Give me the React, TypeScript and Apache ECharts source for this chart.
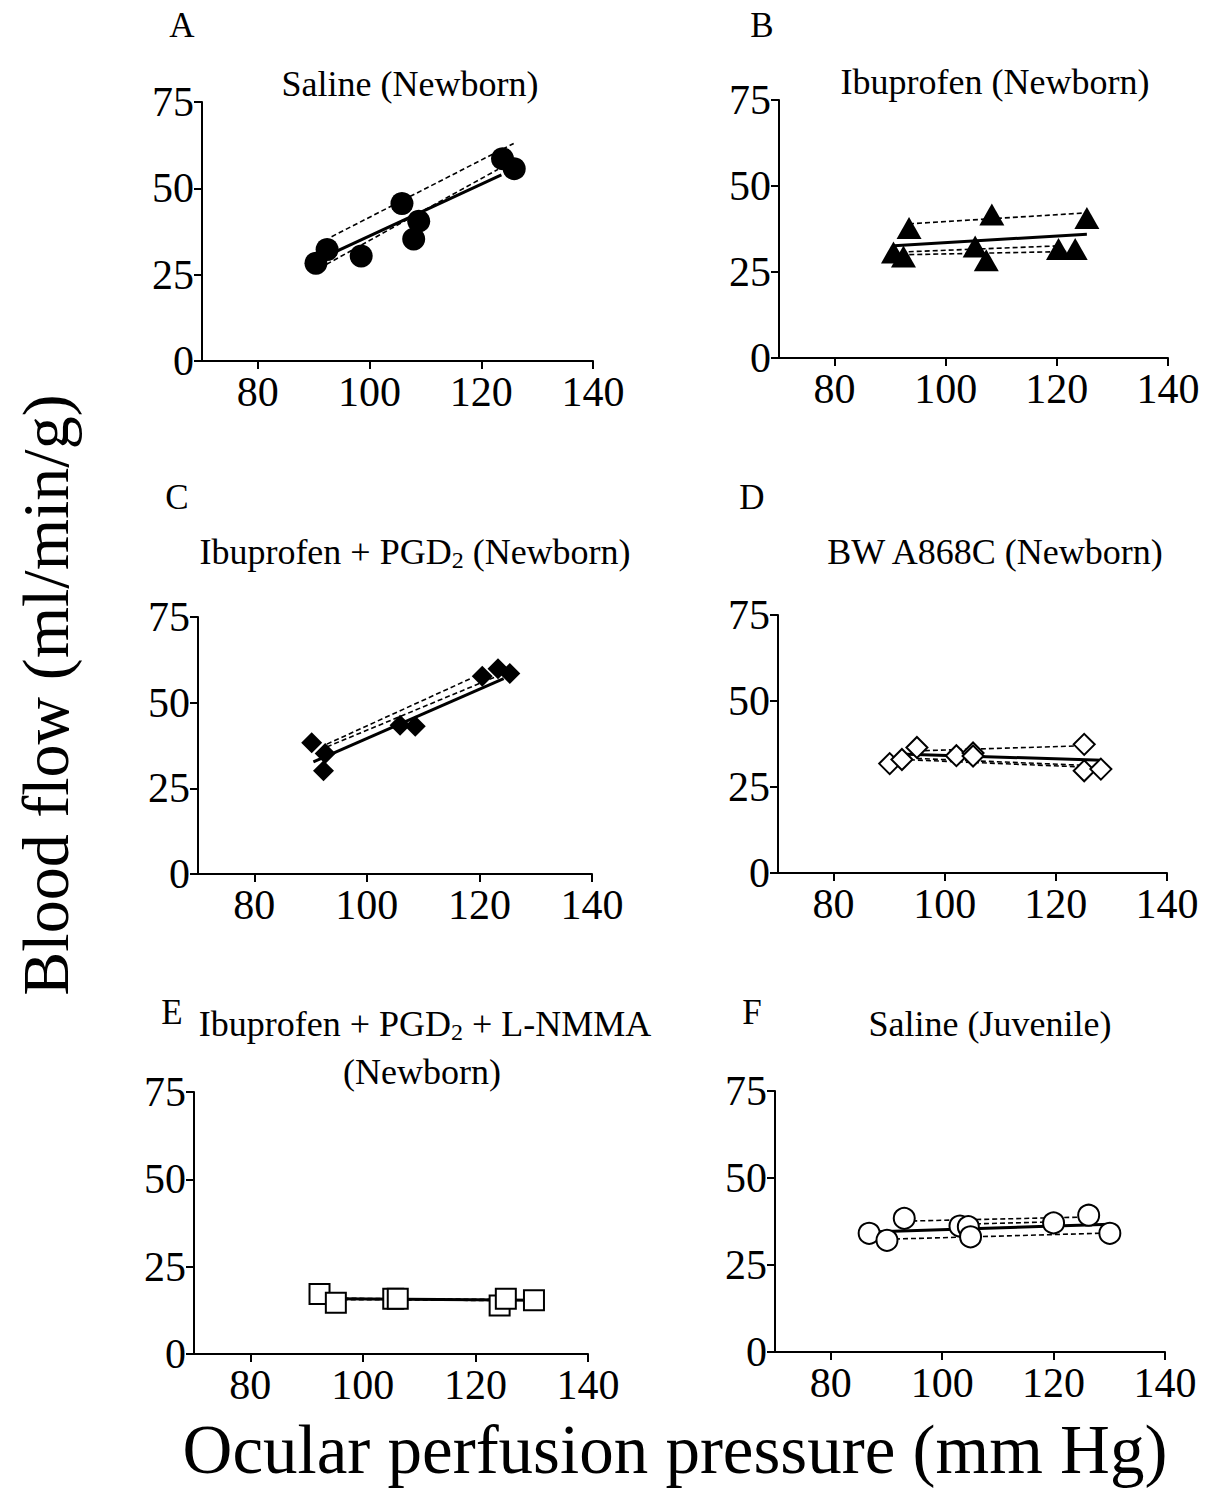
import React, { useEffect, useRef } from "react";
import * as echarts from "echarts";

const FONT = "'Liberation Serif', 'Times New Roman', serif";

// x tick labels and y tick labels
const xTicks = [80, 100, 120, 140];
const yTicks = [0, 25, 50, 75];

const panelLetters = ["A", "B", "C", "D", "E", "F"];

// Panel A: Saline (Newborn)
const pointsA = [[90.4, 28.3], [92.4, 32.3], [98.5, 30.4], [105.8, 45.6], [107.9, 35.3], [108.8, 40.5], [123.8, 58.6], [125.9, 55.7]];
const meanFitA = [[92.0, 30.2], [123.6, 53.9]];
const animalFitsA = [
  [[93.2, 36.0], [125.8, 63.0]],
  [[92.3, 28.0], [123.0, 55.5]],
];

// Panel B: Ibuprofen (Newborn)
const pointsB = [[93.4, 37.8], [108.3, 41.7], [125.4, 40.7], [90.6, 30.7], [92.4, 29.5], [105.3, 32.4], [107.3, 28.4], [120.3, 31.7], [123.3, 31.7]];
const meanFitB = [[90.7, 32.6], [125.4, 36.0]];
const animalFitsB = [
  [[93.4, 39.0], [125.4, 42.2]],
  [[91.9, 30.8], [120.3, 32.6]],
  [[92.0, 30.0], [123.3, 31.0]],
];

// Panel C: Ibuprofen + PGD2 (Newborn)
const pointsC = [[90.2, 38.3], [92.3, 30.1], [92.6, 35.2], [105.9, 43.4], [108.6, 43.1], [120.5, 57.7], [123.3, 59.9], [125.4, 58.5]];
const meanFitC = [[90.5, 32.7], [124.3, 57.0]];
const animalFitsC = [
  [[92.9, 37.9], [118.4, 57.0]],
  [[92.9, 37.1], [123.1, 57.7]],
];

// Panel D: BW A868C (Newborn)
const pointsD = [[90.1, 31.8], [92.3, 33.0], [95.0, 36.5], [102.1, 34.1], [105.1, 34.9], [105.1, 34.0], [125.1, 37.4], [125.1, 29.7], [128.1, 30.2]];
const meanFitD = [[93.2, 34.5], [128.3, 32.8]];
const animalFitsD = [
  [[95.0, 35.5], [125.1, 37.0]],
  [[95.0, 33.3], [125.1, 31.3]],
  [[92.3, 33.0], [128.1, 30.6]],
];

// Panel E: Ibuprofen + PGD2 + L-NMMA (Newborn)
const pointsE = [[92.3, 17.2], [95.2, 14.7], [105.4, 15.8], [106.2, 15.8], [124.3, 13.9], [125.4, 15.8], [130.4, 15.4]];
const meanFitE = [[95.0, 15.8], [130.0, 15.4]];
const animalFitsE = [
  [[95.0, 15.6], [124.3, 15.3]],
  [[92.3, 16.0], [125.4, 15.6]],
];

// Panel F: Saline (Juvenile)
const pointsF = [[86.9, 34.1], [90.1, 32.1], [93.2, 38.4], [103.2, 36.2], [104.7, 36.0], [105.1, 33.1], [120.0, 37.1], [126.3, 39.3], [130.1, 34.1]];
const meanFitF = [[87.1, 34.5], [130.1, 36.7]];
const animalFitsF = [
  [[93.2, 37.6], [126.3, 38.8]],
  [[90.1, 32.4], [130.1, 34.2]],
  [[103.2, 36.7], [120.0, 37.4]],
];

const panels = [
  { points: pointsA, mean: meanFitA, fits: animalFitsA, symbol: "circle", size: 23, filled: true },
  { points: pointsB, mean: meanFitB, fits: animalFitsB, symbol: "triangle", size: [25, 22], filled: true },
  { points: pointsC, mean: meanFitC, fits: animalFitsC, symbol: "diamond", size: 21, filled: true },
  { points: pointsD, mean: meanFitD, fits: animalFitsD, symbol: "diamond", size: 21, filled: false },
  { points: pointsE, mean: meanFitE, fits: animalFitsE, symbol: "rect", size: 20, filled: false },
  { points: pointsF, mean: meanFitF, fits: animalFitsF, symbol: "circle", size: 21, filled: false },
];

const gridBoxes = [
  { left: 202, top: 102, width: 391, height: 259 },
  { left: 779, top: 100, width: 389, height: 258 },
  { left: 198, top: 617, width: 394, height: 257 },
  { left: 778, top: 615, width: 389, height: 258 },
  { left: 194, top: 1092, width: 394, height: 262 },
  { left: 775, top: 1091, width: 390, height: 261 },
];

const letterPos = [
  [182, 25], [762, 25], [177, 497], [752, 497], [172, 1012], [752, 1012],
];

const rich = {
  r: { fontSize: 36, fontFamily: FONT, fill: "#000", color: "#000" },
  s: { fontSize: 24, fontFamily: FONT, fill: "#000", color: "#000", padding: [16, 0, 0, 0], verticalAlign: "bottom" },
};

const titles = [
  { text: "{r|Saline (Newborn)}", x: 410, y: 84 },
  { text: "{r|Ibuprofen (Newborn)}", x: 995, y: 82 },
  { text: "{r|Ibuprofen + PGD}{s|2}{r| (Newborn)}", x: 415, y: 552 },
  { text: "{r|BW A868C (Newborn)}", x: 995, y: 552 },
  { text: "{r|Ibuprofen + PGD}{s|2}{r| + L-NMMA}", x: 425, y: 1024 },
  { text: "{r|(Newborn)}", x: 422, y: 1072 },
  { text: "{r|Saline (Juvenile)}", x: 990, y: 1024 },
];

export default function App() {
  const ref = useRef<HTMLDivElement>(null);
  useEffect(() => {
    if (!ref.current) return;
    const chart = echarts.init(ref.current, undefined, { renderer: "svg" });
    const grid = gridBoxes.map((g) => ({ ...g, containLabel: false }));
    const xAxis = gridBoxes.map((_, i) => ({
      type: "value",
      gridIndex: i,
      min: 70,
      max: 140,
      axisLine: { show: true, onZero: false, lineStyle: { color: "#000", width: 2 } },
      axisTick: { show: true, length: 8, lineStyle: { color: "#000", width: 2 }, customValues: xTicks },
      axisLabel: { customValues: xTicks, fontSize: 42, fontFamily: FONT, color: "#000", margin: 10 },
      splitLine: { show: false },
    }));
    const yAxis = gridBoxes.map((_, i) => ({
      type: "value",
      gridIndex: i,
      min: 0,
      max: 75,
      interval: 25,
      axisLine: { show: true, onZero: false, lineStyle: { color: "#000", width: 2 } },
      axisTick: { show: true, length: 8, lineStyle: { color: "#000", width: 2 }, customValues: yTicks },
      axisLabel: { customValues: yTicks, fontSize: 42, fontFamily: FONT, color: "#000", margin: 8 },
      splitLine: { show: false },
    }));
    const series: any[] = [];
    panels.forEach((p, i) => {
      p.fits.forEach((f) => {
        series.push({
          type: "line",
          xAxisIndex: i,
          yAxisIndex: i,
          data: f,
          symbol: "none",
          lineStyle: { color: "#000", width: 1.6, type: [5, 3] },
          z: 2,
        });
      });
      series.push({
        type: "line",
        xAxisIndex: i,
        yAxisIndex: i,
        data: p.mean,
        symbol: "none",
        lineStyle: { color: "#000", width: 3, type: "solid" },
        z: 3,
      });
      series.push({
        type: "scatter",
        xAxisIndex: i,
        yAxisIndex: i,
        data: p.points,
        symbol: p.symbol,
        symbolSize: p.size,
        itemStyle: p.filled
          ? { color: "#000", borderColor: "#000", borderWidth: 0, opacity: 1 }
          : { color: "#fff", borderColor: "#000", borderWidth: 2, opacity: 1 },
        z: 4,
      });
    });
    const graphic: any[] = [];
    panelLetters.forEach((l, i) => {
      graphic.push({
        type: "text",
        x: letterPos[i][0],
        y: letterPos[i][1],
        style: { text: l, fontSize: 35, fontFamily: FONT, fill: "#000", align: "center", verticalAlign: "middle" },
      });
    });
    titles.forEach((t) => {
      graphic.push({
        type: "text",
        x: t.x,
        y: t.y,
        style: { text: t.text, rich, fontSize: 36, fontFamily: FONT, fill: "#000", align: "center", verticalAlign: "middle" },
      });
    });
    graphic.push({
      type: "text",
      x: 45,
      y: 695,
      rotation: Math.PI / 2,
      style: { text: "Blood flow (ml/min/g)", fontSize: 66, fontFamily: FONT, fill: "#000", align: "center", verticalAlign: "middle" },
    });
    graphic.push({
      type: "text",
      x: 675,
      y: 1450,
      style: { text: "Ocular perfusion pressure (mm Hg)", fontSize: 69, fontFamily: FONT, fill: "#000", align: "center", verticalAlign: "middle" },
    });
    chart.setOption({
      animation: false,
      backgroundColor: "#fff",
      grid,
      xAxis,
      yAxis,
      series,
      graphic,
    });
    return () => chart.dispose();
  }, []);
  return <div ref={ref} style={{ position: "absolute", left: 0, top: 0, width: 1207, height: 1493 }} />;
}
